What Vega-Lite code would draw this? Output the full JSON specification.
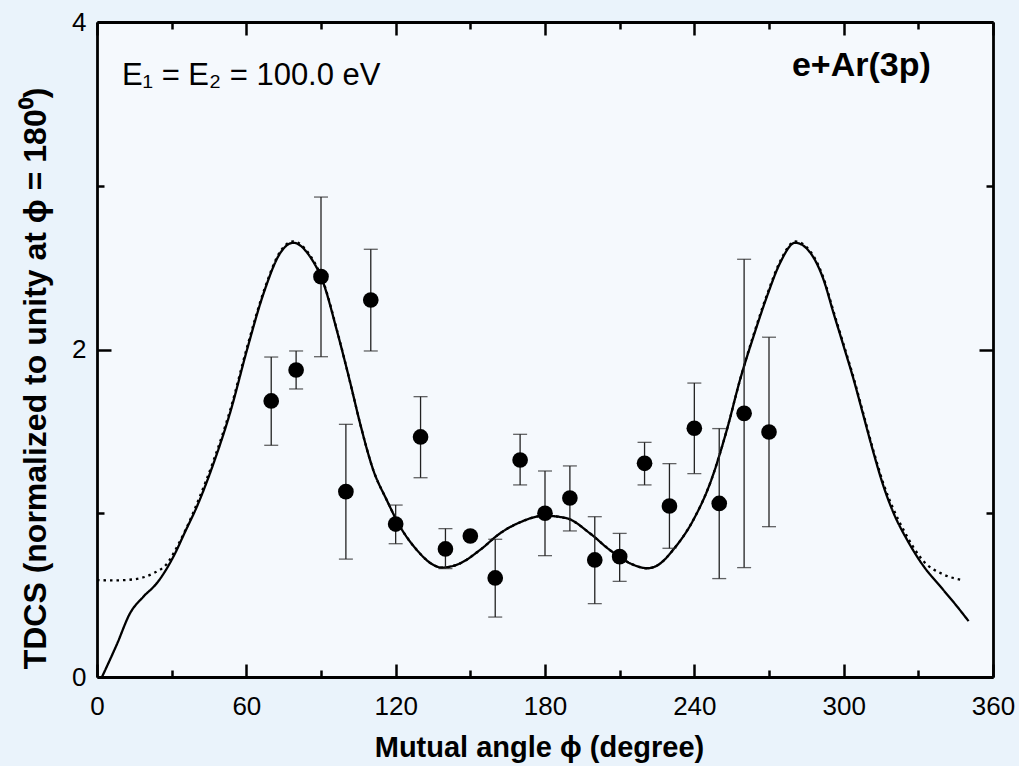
{
  "$schema": "https://vega.github.io/schema/vega-lite/v6.json",
  "autosize": "none",
  "width": 896,
  "height": 655,
  "padding": {"left": 97, "top": 22, "right": 26, "bottom": 89},
  "background": "#eaf3fb",
  "config": {
    "view": {"fill": "#f5f9fd", "stroke": null},
    "font": "Liberation Sans"
  },
  "datasets": {
    "curves": [
      {"angle": 2, "tdcs": 0.0, "model": "solid"},
      {"angle": 8, "tdcs": 0.2, "model": "solid"},
      {"angle": 13.3, "tdcs": 0.39, "model": "solid"},
      {"angle": 18.6, "tdcs": 0.49, "model": "solid"},
      {"angle": 24, "tdcs": 0.572, "model": "solid"},
      {"angle": 30.8, "tdcs": 0.738, "model": "solid"},
      {"angle": 35.5, "tdcs": 0.89, "model": "solid"},
      {"angle": 40.2, "tdcs": 1.043, "model": "solid"},
      {"angle": 46.9, "tdcs": 1.308, "model": "solid"},
      {"angle": 53.6, "tdcs": 1.62, "model": "solid"},
      {"angle": 60.3, "tdcs": 2.0, "model": "solid"},
      {"angle": 67, "tdcs": 2.346, "model": "solid"},
      {"angle": 73.7, "tdcs": 2.591, "model": "solid"},
      {"angle": 78.8, "tdcs": 2.652, "model": "solid"},
      {"angle": 85.6, "tdcs": 2.567, "model": "solid"},
      {"angle": 91, "tdcs": 2.404, "model": "solid"},
      {"angle": 96.3, "tdcs": 2.12, "model": "solid"},
      {"angle": 101.7, "tdcs": 1.8, "model": "solid"},
      {"angle": 105.7, "tdcs": 1.549, "model": "solid"},
      {"angle": 111, "tdcs": 1.264, "model": "solid"},
      {"angle": 116.4, "tdcs": 1.081, "model": "solid"},
      {"angle": 121.8, "tdcs": 0.918, "model": "solid"},
      {"angle": 128.5, "tdcs": 0.776, "model": "solid"},
      {"angle": 135.2, "tdcs": 0.684, "model": "solid"},
      {"angle": 138.5, "tdcs": 0.668, "model": "solid"},
      {"angle": 145.9, "tdcs": 0.694, "model": "solid"},
      {"angle": 153.9, "tdcs": 0.776, "model": "solid"},
      {"angle": 162, "tdcs": 0.878, "model": "solid"},
      {"angle": 170, "tdcs": 0.945, "model": "solid"},
      {"angle": 179.7, "tdcs": 0.985, "model": "solid"},
      {"angle": 188.8, "tdcs": 0.969, "model": "solid"},
      {"angle": 198, "tdcs": 0.878, "model": "solid"},
      {"angle": 206, "tdcs": 0.776, "model": "solid"},
      {"angle": 214.2, "tdcs": 0.694, "model": "solid"},
      {"angle": 221.3, "tdcs": 0.664, "model": "solid"},
      {"angle": 226, "tdcs": 0.69, "model": "solid"},
      {"angle": 231.6, "tdcs": 0.779, "model": "solid"},
      {"angle": 239.7, "tdcs": 0.962, "model": "solid"},
      {"angle": 246.4, "tdcs": 1.186, "model": "solid"},
      {"angle": 253.1, "tdcs": 1.511, "model": "solid"},
      {"angle": 258.4, "tdcs": 1.817, "model": "solid"},
      {"angle": 263.8, "tdcs": 2.081, "model": "solid"},
      {"angle": 269.2, "tdcs": 2.325, "model": "solid"},
      {"angle": 274.5, "tdcs": 2.53, "model": "solid"},
      {"angle": 280.5, "tdcs": 2.652, "model": "solid"},
      {"angle": 286.6, "tdcs": 2.591, "model": "solid"},
      {"angle": 291.9, "tdcs": 2.427, "model": "solid"},
      {"angle": 295.9, "tdcs": 2.224, "model": "solid"},
      {"angle": 300, "tdcs": 2.02, "model": "solid"},
      {"angle": 304, "tdcs": 1.817, "model": "solid"},
      {"angle": 308, "tdcs": 1.593, "model": "solid"},
      {"angle": 312, "tdcs": 1.369, "model": "solid"},
      {"angle": 316, "tdcs": 1.165, "model": "solid"},
      {"angle": 320, "tdcs": 1.003, "model": "solid"},
      {"angle": 325.4, "tdcs": 0.84, "model": "solid"},
      {"angle": 332.1, "tdcs": 0.677, "model": "solid"},
      {"angle": 338.8, "tdcs": 0.554, "model": "solid"},
      {"angle": 345.5, "tdcs": 0.432, "model": "solid"},
      {"angle": 350.2, "tdcs": 0.341, "model": "solid"},
      {"angle": 0, "tdcs": 0.592, "model": "dotted"},
      {"angle": 7, "tdcs": 0.59, "model": "dotted"},
      {"angle": 14.5, "tdcs": 0.596, "model": "dotted"},
      {"angle": 22.6, "tdcs": 0.633, "model": "dotted"},
      {"angle": 28, "tdcs": 0.69, "model": "dotted"},
      {"angle": 33, "tdcs": 0.82, "model": "dotted"},
      {"angle": 38, "tdcs": 0.98, "model": "dotted"},
      {"angle": 40.2, "tdcs": 1.06, "model": "dotted"},
      {"angle": 46.9, "tdcs": 1.325, "model": "dotted"},
      {"angle": 53.6, "tdcs": 1.635, "model": "dotted"},
      {"angle": 60.3, "tdcs": 2.015, "model": "dotted"},
      {"angle": 67, "tdcs": 2.356, "model": "dotted"},
      {"angle": 73.7, "tdcs": 2.6, "model": "dotted"},
      {"angle": 78.8, "tdcs": 2.66, "model": "dotted"},
      {"angle": 85.6, "tdcs": 2.575, "model": "dotted"},
      {"angle": 91, "tdcs": 2.41, "model": "dotted"},
      {"angle": 96.3, "tdcs": 2.125, "model": "dotted"},
      {"angle": 101.7, "tdcs": 1.8, "model": "dotted"},
      {"angle": 105.7, "tdcs": 1.549, "model": "dotted"},
      {"angle": 111, "tdcs": 1.264, "model": "dotted"},
      {"angle": 116.4, "tdcs": 1.081, "model": "dotted"},
      {"angle": 121.8, "tdcs": 0.918, "model": "dotted"},
      {"angle": 128.5, "tdcs": 0.776, "model": "dotted"},
      {"angle": 135.2, "tdcs": 0.684, "model": "dotted"},
      {"angle": 138.5, "tdcs": 0.668, "model": "dotted"},
      {"angle": 145.9, "tdcs": 0.694, "model": "dotted"},
      {"angle": 153.9, "tdcs": 0.776, "model": "dotted"},
      {"angle": 162, "tdcs": 0.878, "model": "dotted"},
      {"angle": 170, "tdcs": 0.945, "model": "dotted"},
      {"angle": 179.7, "tdcs": 0.985, "model": "dotted"},
      {"angle": 188.8, "tdcs": 0.969, "model": "dotted"},
      {"angle": 198, "tdcs": 0.878, "model": "dotted"},
      {"angle": 206, "tdcs": 0.776, "model": "dotted"},
      {"angle": 214.2, "tdcs": 0.694, "model": "dotted"},
      {"angle": 221.3, "tdcs": 0.664, "model": "dotted"},
      {"angle": 226, "tdcs": 0.69, "model": "dotted"},
      {"angle": 231.6, "tdcs": 0.779, "model": "dotted"},
      {"angle": 239.7, "tdcs": 0.962, "model": "dotted"},
      {"angle": 246.4, "tdcs": 1.186, "model": "dotted"},
      {"angle": 253.1, "tdcs": 1.511, "model": "dotted"},
      {"angle": 258.4, "tdcs": 1.817, "model": "dotted"},
      {"angle": 263.8, "tdcs": 2.09, "model": "dotted"},
      {"angle": 269.2, "tdcs": 2.335, "model": "dotted"},
      {"angle": 274.5, "tdcs": 2.54, "model": "dotted"},
      {"angle": 280.5, "tdcs": 2.66, "model": "dotted"},
      {"angle": 286.6, "tdcs": 2.6, "model": "dotted"},
      {"angle": 291.9, "tdcs": 2.437, "model": "dotted"},
      {"angle": 295.9, "tdcs": 2.234, "model": "dotted"},
      {"angle": 300, "tdcs": 2.03, "model": "dotted"},
      {"angle": 304, "tdcs": 1.827, "model": "dotted"},
      {"angle": 308, "tdcs": 1.603, "model": "dotted"},
      {"angle": 312, "tdcs": 1.38, "model": "dotted"},
      {"angle": 316, "tdcs": 1.18, "model": "dotted"},
      {"angle": 320, "tdcs": 1.025, "model": "dotted"},
      {"angle": 324, "tdcs": 0.9, "model": "dotted"},
      {"angle": 332.1, "tdcs": 0.707, "model": "dotted"},
      {"angle": 340.1, "tdcs": 0.626, "model": "dotted"},
      {"angle": 348.1, "tdcs": 0.591, "model": "dotted"}
    ],
    "points": [
      {"angle": 70, "tdcs": 1.686, "lo": 1.415, "hi": 1.954},
      {"angle": 80, "tdcs": 1.875, "lo": 1.759, "hi": 1.991},
      {"angle": 90, "tdcs": 2.445, "lo": 1.956, "hi": 2.931},
      {"angle": 100, "tdcs": 1.132, "lo": 0.72, "hi": 1.543},
      {"angle": 110, "tdcs": 2.302, "lo": 1.991, "hi": 2.612},
      {"angle": 120, "tdcs": 0.934, "lo": 0.814, "hi": 1.05},
      {"angle": 130, "tdcs": 1.466, "lo": 1.217, "hi": 1.712},
      {"angle": 140, "tdcs": 0.782, "lo": 0.662, "hi": 0.906},
      {"angle": 150, "tdcs": 0.861, "lo": null, "hi": null},
      {"angle": 160, "tdcs": 0.605, "lo": 0.366, "hi": 0.841},
      {"angle": 170, "tdcs": 1.325, "lo": 1.173, "hi": 1.482},
      {"angle": 180, "tdcs": 1.0, "lo": 0.741, "hi": 1.258},
      {"angle": 190, "tdcs": 1.093, "lo": 0.892, "hi": 1.289},
      {"angle": 200, "tdcs": 0.715, "lo": 0.448, "hi": 0.979},
      {"angle": 210, "tdcs": 0.735, "lo": 0.584, "hi": 0.877},
      {"angle": 220, "tdcs": 1.305, "lo": 1.173, "hi": 1.433},
      {"angle": 230, "tdcs": 1.044, "lo": 0.786, "hi": 1.303},
      {"angle": 240, "tdcs": 1.519, "lo": 1.242, "hi": 1.795},
      {"angle": 250, "tdcs": 1.06, "lo": 0.601, "hi": 1.517},
      {"angle": 260, "tdcs": 1.61, "lo": 0.668, "hi": 2.551},
      {"angle": 270, "tdcs": 1.496, "lo": 0.918, "hi": 2.075}
    ]
  },
  "resolve": {"axis": {"x": "independent", "y": "independent"}},
  "layer": [
    {
      "data": {"name": "curves"},
      "mark": {"type": "line", "interpolate": "monotone", "color": "#000000", "strokeWidth": 2.3, "clip": true},
      "encoding": {
        "x": {
          "field": "angle", "type": "quantitative",
          "scale": {"domain": [0, 360], "nice": false},
          "axis": {
            "orient": "bottom",
            "values": [0, 30, 60, 90, 120, 150, 180, 210, 240, 270, 300, 330, 360],
            "labelExpr": "datum.value % 60 === 0 ? datum.label : ''",
            "tickSize": {"condition": {"test": "datum.value % 60 === 0", "value": -13}, "value": -7},
            "tickWidth": 2.5, "tickColor": "#000000",
            "domainColor": "#000000", "domainWidth": 2.8,
            "grid": false,
            "labelFontSize": 26, "labelColor": "#000000", "labelFont": "Liberation Sans",
            "labelPadding": 29, "labelFlush": false, "labelOverlap": false,
            "title": "Mutual angle ϕ (degree)",
            "titleFont": "Liberation Sans", "titleFontSize": 29, "titleFontWeight": "bold",
            "titleColor": "#000000", "titleBaseline": "alphabetic", "titleY": 79, "titleX": 442
          }
        },
        "y": {
          "field": "tdcs", "type": "quantitative",
          "scale": {"domain": [0, 4], "nice": false},
          "axis": {
            "orient": "left",
            "values": [0, 1, 2, 3, 4],
            "labelExpr": "datum.value % 2 === 0 ? datum.label : ''",
            "tickSize": {"condition": {"test": "datum.value % 2 === 0", "value": -14}, "value": -7},
            "tickWidth": 2.5, "tickColor": "#000000",
            "domainColor": "#000000", "domainWidth": 2.8,
            "grid": false,
            "labelFontSize": 26, "labelColor": "#000000", "labelFont": "Liberation Sans",
            "labelPadding": 25, "labelFlush": false, "labelOverlap": false,
            "title": "TDCS (normalized to unity at ϕ = 180⁰)",
            "titleFont": "Liberation Sans", "titleFontSize": 32, "titleFontWeight": "bold",
            "titleColor": "#000000", "titleBaseline": "alphabetic", "titleX": -52, "titleY": 356, "titleAngle": -90
          }
        },
        "strokeDash": {
          "field": "model", "type": "nominal",
          "scale": {"domain": ["solid", "dotted"], "range": [[1, 0], [2.5, 4]]},
          "legend": null
        },
        "detail": {"field": "model"}
      }
    },
    {
      "data": {"name": "points"},
      "transform": [{"filter": "datum.lo != null"}],
      "mark": {"type": "rule", "color": "#222222", "strokeWidth": 1.3},
      "encoding": {
        "x": {
          "field": "angle", "type": "quantitative",
          "axis": {
            "orient": "top",
            "values": [0, 30, 60, 90, 120, 150, 180, 210, 240, 270, 300, 330, 360],
            "labels": false, "title": null, "grid": false,
            "tickSize": {"condition": {"test": "datum.value % 60 === 0", "value": -13}, "value": -7},
            "tickWidth": 2.5, "tickColor": "#000000",
            "domainColor": "#000000", "domainWidth": 2.8
          }
        },
        "y": {
          "field": "lo", "type": "quantitative",
          "axis": {
            "orient": "right",
            "values": [0, 1, 2, 3, 4],
            "labels": false, "title": null, "grid": false,
            "tickSize": {"condition": {"test": "datum.value % 2 === 0", "value": -14}, "value": -7},
            "tickWidth": 2.5, "tickColor": "#000000",
            "domainColor": "#000000", "domainWidth": 2.8
          }
        },
        "y2": {"field": "hi"}
      }
    },
    {
      "data": {"name": "points"},
      "transform": [{"filter": "datum.lo != null"}],
      "mark": {"type": "tick", "orient": "horizontal", "color": "#222222", "size": 14, "thickness": 1.3},
      "encoding": {
        "x": {"field": "angle", "type": "quantitative", "axis": null},
        "y": {"field": "lo", "type": "quantitative", "axis": null}
      }
    },
    {
      "data": {"name": "points"},
      "transform": [{"filter": "datum.lo != null"}],
      "mark": {"type": "tick", "orient": "horizontal", "color": "#222222", "size": 14, "thickness": 1.3},
      "encoding": {
        "x": {"field": "angle", "type": "quantitative", "axis": null},
        "y": {"field": "hi", "type": "quantitative", "axis": null}
      }
    },
    {
      "data": {"name": "points"},
      "mark": {"type": "point", "shape": "circle", "filled": true, "color": "#000000", "size": 245, "opacity": 1},
      "encoding": {
        "x": {"field": "angle", "type": "quantitative", "axis": null},
        "y": {"field": "tdcs", "type": "quantitative", "axis": null}
      }
    },
    {
      "data": {"values": [{}]},
      "mark": {"type": "text", "align": "left", "baseline": "alphabetic", "fontSize": 31, "font": "Liberation Sans", "color": "#000000"},
      "encoding": {
        "x": {"datum": 10, "type": "quantitative", "axis": null},
        "y": {"datum": 3.615, "type": "quantitative", "axis": null},
        "text": {"value": "E₁ = E₂ = 100.0 eV"}
      }
    },
    {
      "data": {"values": [{}]},
      "mark": {"type": "text", "align": "right", "baseline": "alphabetic", "fontSize": 34, "fontWeight": "bold", "font": "Liberation Sans", "color": "#000000"},
      "encoding": {
        "x": {"datum": 335, "type": "quantitative", "axis": null},
        "y": {"datum": 3.673, "type": "quantitative", "axis": null},
        "text": {"value": "e+Ar(3p)"}
      }
    }
  ]
}
